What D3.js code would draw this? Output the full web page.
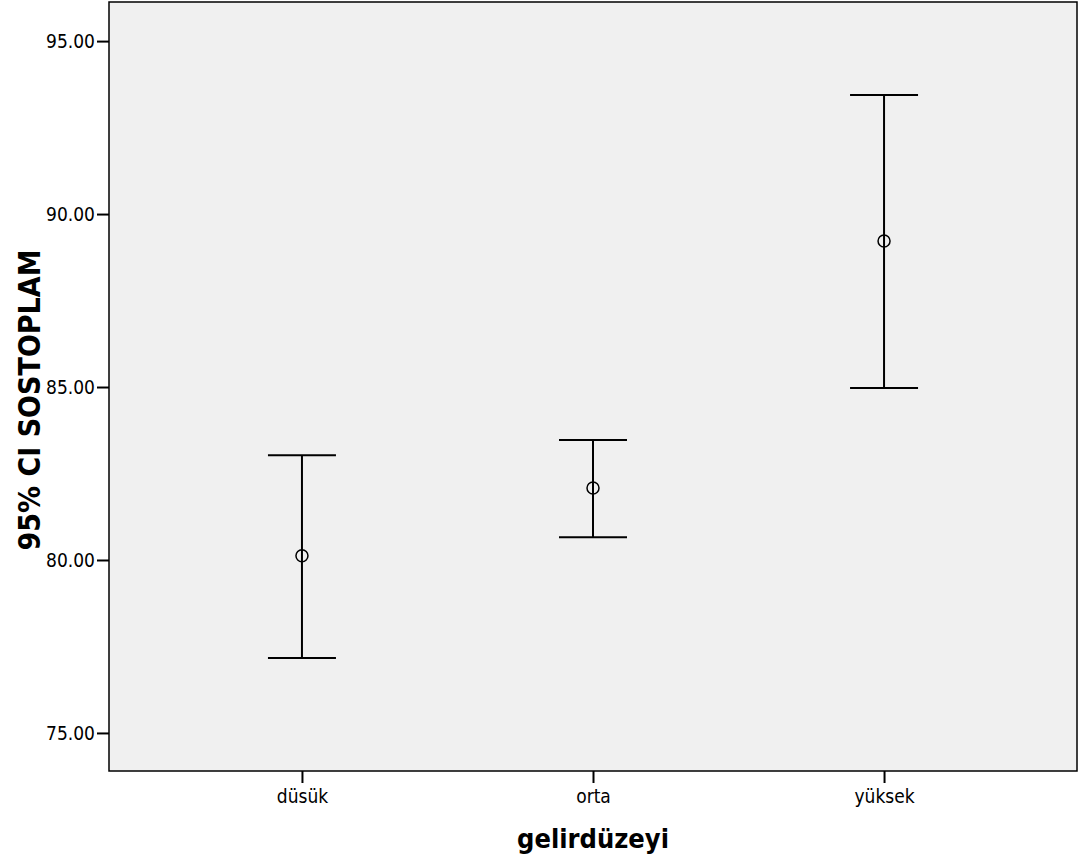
<!DOCTYPE html>
<html>
<head>
<meta charset="utf-8">
<script src="https://cdn.jsdelivr.net/npm/d3@7"></script>
<style>
  body { margin: 0; background: #fff; }
  svg text { font-family: "DejaVu Sans Condensed", "DejaVu Sans", sans-serif; }
</style>
</head>
<body>
<div id="chart"></div>
<script>
// --- Data ---
const groups = ["düsük", "orta", "yüksek"];
const means = [80.12, 82.08, 89.22];
const lowers = [77.17, 80.66, 84.97];
const uppers = [83.03, 83.47, 93.44];
const yTicks = [75, 80, 85, 90, 95];

// --- Dimensions ---
const width = 1080;
const height = 861;
const margin = { top: 2, right: 3, bottom: 90, left: 109 };

const svg = d3
  .select("#chart")
  .append("svg")
  .attr("width", width)
  .attr("height", height);

const x = d3
  .scalePoint()
  .domain(groups)
  .range([margin.left, width - margin.right])
  .padding(0.663);

const y = d3
  .scaleLinear()
  .domain([73.9, 96.13])
  .range([height - margin.bottom, margin.top]);

// plot background
svg
  .append("rect")
  .attr("x", margin.left)
  .attr("y", margin.top)
  .attr("width", width - margin.left - margin.right)
  .attr("height", height - margin.top - margin.bottom)
  .attr("fill", "#f0f0f0")
  .attr("stroke", "#000")
  .attr("stroke-width", 1.5);

// --- Axes ---
const yAxis = svg
  .append("g")
  .attr("transform", `translate(${margin.left},0)`)
  .call(
    d3.axisLeft(y).tickValues(yTicks).tickSize(12).tickPadding(2)
      .tickFormat(d3.format(".2f"))
  );
yAxis.select(".domain").remove();
yAxis.selectAll(".tick line").attr("stroke", "#000").attr("stroke-width", 2);
yAxis.selectAll(".tick text").attr("fill", "#000").style("font-size", "19px");

const xAxis = svg
  .append("g")
  .attr("transform", `translate(0,${height - margin.bottom})`)
  .call(d3.axisBottom(x).tickSize(12).tickPadding(7));
xAxis.select(".domain").remove();
xAxis.selectAll(".tick line").attr("stroke", "#000").attr("stroke-width", 2);
xAxis.selectAll(".tick text").attr("fill", "#000").style("font-size", "19px");

// axis titles
svg
  .append("text")
  .attr("x", x("orta"))
  .attr("y", 848)
  .attr("text-anchor", "middle")
  .style("font-size", "27px")
  .style("font-weight", "bold")
  .text("gelirdüzeyi");

svg
  .append("text")
  .attr("transform", "translate(40,400) rotate(-90)")
  .attr("text-anchor", "middle")
  .style("font-size", "30px")
  .style("font-weight", "bold")
  .text("95% CI SOSTOPLAM");

// --- Error bars ---
const rows = groups.map((g, i) => ({ g, m: means[i], lo: lowers[i], hi: uppers[i] }));
const capHalf = 34;

const bars = svg.append("g").attr("stroke", "#000").attr("stroke-width", 2);

bars
  .selectAll("line.stem")
  .data(rows)
  .join("line")
  .attr("class", "stem")
  .attr("x1", (d) => x(d.g))
  .attr("x2", (d) => x(d.g))
  .attr("y1", (d) => y(d.lo))
  .attr("y2", (d) => y(d.hi));

bars
  .selectAll("line.capHi")
  .data(rows)
  .join("line")
  .attr("class", "capHi")
  .attr("x1", (d) => x(d.g) - capHalf)
  .attr("x2", (d) => x(d.g) + capHalf)
  .attr("y1", (d) => y(d.hi))
  .attr("y2", (d) => y(d.hi));

bars
  .selectAll("line.capLo")
  .data(rows)
  .join("line")
  .attr("class", "capLo")
  .attr("x1", (d) => x(d.g) - capHalf)
  .attr("x2", (d) => x(d.g) + capHalf)
  .attr("y1", (d) => y(d.lo))
  .attr("y2", (d) => y(d.lo));

svg
  .append("g")
  .selectAll("circle")
  .data(rows)
  .join("circle")
  .attr("cx", (d) => x(d.g))
  .attr("cy", (d) => y(d.m))
  .attr("r", 6)
  .attr("fill", "none")
  .attr("stroke", "#000")
  .attr("stroke-width", 1.5);
</script>
</body>
</html>
